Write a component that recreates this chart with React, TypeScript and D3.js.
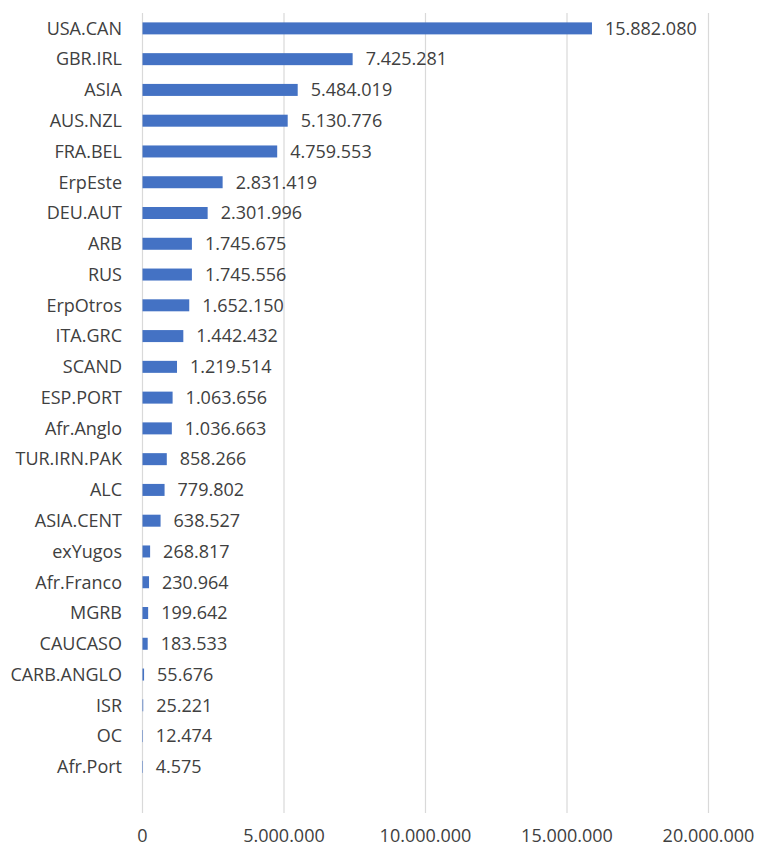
import React from "react";
import * as d3 from "d3";

const categories = ["USA.CAN","GBR.IRL","ASIA","AUS.NZL","FRA.BEL","ErpEste","DEU.AUT","ARB","RUS","ErpOtros","ITA.GRC","SCAND","ESP.PORT","Afr.Anglo","TUR.IRN.PAK","ALC","ASIA.CENT","exYugos","Afr.Franco","MGRB","CAUCASO","CARB.ANGLO","ISR","OC","Afr.Port"];
const values = [15882080,7425281,5484019,5130776,4759553,2831419,2301996,1745675,1745556,1652150,1442432,1219514,1063656,1036663,858266,779802,638527,268817,230964,199642,183533,55676,25221,12474,4575];
const ticks = [0, 5000000, 10000000, 15000000, 20000000];

const W = 758, H = 848;
const fmt = (v: number) => d3.format(",")(v).replace(/,/g, ".");

export default function App() {
  const x = d3.scaleLinear().domain([0, 20000000]).range([142.5, 708.5]);
  const step = 800 / 26;
  const y = d3.scaleBand().domain(categories).range([13, 13 + step * categories.length]).paddingInner(0.61).paddingOuter(0.305);
  const font = "'Open Sans', sans-serif";
  const col = "#404040";
  const fs = 18;
  return (
    <svg width={W} height={H} style={{ position: "absolute", left: 0, top: 0, background: "#fff" }}>
      {ticks.map((t) => (
        <line key={"g" + t} x1={x(t)} x2={x(t)} y1={13} y2={813} stroke="#d9d9d9" strokeWidth={1.2} />
      ))}
      {categories.map((c, i) => (
        <g key={c}>
          <rect x={x(0)} y={y(c)!} width={Math.max(x(values[i]) - x(0), 0.5)} height={y.bandwidth()} fill="#4472C4" />
          <text x={122} y={y(c)! + y.bandwidth() / 2} dy="0.35em" textAnchor="end" fontFamily={font} fontSize={fs} fill={col}>{c}</text>
          <text x={x(values[i]) + 13} y={y(c)! + y.bandwidth() / 2} dy="0.35em" textAnchor="start" fontFamily={font} fontSize={fs} fill={col}>{fmt(values[i])}</text>
        </g>
      ))}
      {ticks.map((t) => (
        <text key={"t" + t} x={x(t)} y={842} textAnchor="middle" fontFamily={font} fontSize={fs} fill={col}>{fmt(t)}</text>
      ))}
    </svg>
  );
}
